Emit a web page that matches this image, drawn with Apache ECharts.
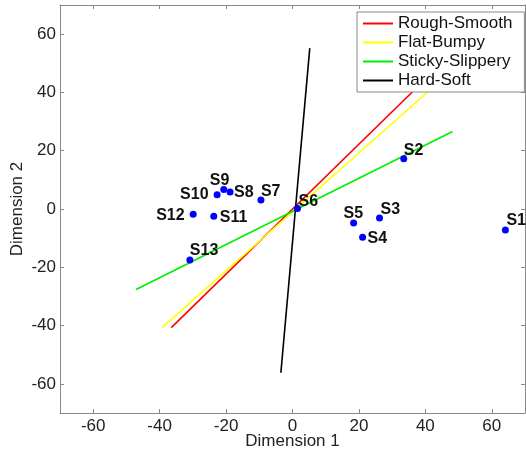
<!DOCTYPE html>
<html>
<head>
<meta charset="utf-8">
<script src="https://cdn.jsdelivr.net/npm/echarts@6/dist/echarts.min.js"></script>
<style>
html, body { margin: 0; padding: 0; background: #fff; }
#chart { width: 526px; height: 455px; }
</style>
</head>
<body>
<div id="chart"></div>
<script>
var sampleNames = ['S1', 'S2', 'S3', 'S4', 'S5', 'S6', 'S7', 'S8', 'S9', 'S10', 'S11', 'S12', 'S13'];
var sampleX = [64.1, 33.5, 26.2, 21.1, 18.4, 1.5, -9.5, -18.8, -20.7, -22.7, -23.7, -29.9, -30.9];
var sampleY = [-7.2, 17.2, -3.1, -9.7, -4.8, 0.2, 3.1, 5.8, 6.7, 4.9, -2.5, -1.8, -17.5];

var vectorNames = ['Rough-Smooth', 'Flat-Bumpy', 'Sticky-Slippery', 'Hard-Soft'];
var vectorColors = ['#ff0000', '#ffff00', '#00ee00', '#000000'];
var vectorStart = [[-36.5, -40.7], [-39.3, -40.7], [-47.1, -27.6], [-3.5, -56.2]];
var vectorEnd = [[44, 49], [41.5, 41], [48.2, 26.6], [5.2, 55.2]];

var axisTicks = [-60, -40, -20, 0, 20, 40, 60];

// top-left corner of each label, measured from its dot (px)
var labelPlace = {
	S1: [1, -17], S2: [0, -16], S3: [1, -16], S4: [5, -7], S5: [-10, -17],
	S6: [1, -15], S7: [0, -16], S8: [4, -8], S9: [-14, -17], S10: [-37, -8],
	S11: [6, -7], S12: [-37, -7], S13: [0, -17]
};

var lineSeries = vectorNames.map(function(name, i) {
	return {
		name: name,
		type: 'line',
		data: [vectorStart[i], vectorEnd[i]],
		showSymbol: false,
		symbol: 'none',
		lineStyle: { color: vectorColors[i], width: 1.6 },
		itemStyle: { color: vectorColors[i] },
		z: 2,
		silent: true
	};
});

var points = sampleNames.map(function(n, i) {
	return {
		value: [sampleX[i], sampleY[i]],
		name: n,
		label: {
			show: true,
			position: [labelPlace[n][0] + 3.5, labelPlace[n][1] + 3.5],
			align: 'left',
			verticalAlign: 'top',
			formatter: n
		}
	};
});

var fontName = 'Liberation Sans, Arial, sans-serif';
var labelFont = { fontFamily: fontName, fontSize: 17, color: '#222' };
var edge = { color: '#888' };

var option = {
	animation: false,
	backgroundColor: '#fff',
	grid: { left: 60, right: 1, top: 5, bottom: 42, outerBoundsMode: 'none', containLabel: false },
	legend: {
		data: vectorNames.map(function(n, i) { return { name: n, icon: 'rect', itemStyle: { color: vectorColors[i] } }; }),
		orient: 'vertical',
		top: 12,
		left: 357,
		itemWidth: 30,
		itemHeight: 2,
		itemGap: 2,
		padding: [3, 12, 3, 6],
		backgroundColor: '#fff',
		borderColor: '#888',
		borderWidth: 1,
		borderRadius: 0,
		textStyle: { fontFamily: fontName, fontSize: 17, lineHeight: 17, color: '#111' },
		selectedMode: false
	},
	xAxis: [{
		type: 'value', min: -70, max: 70, interval: 10,
		name: 'Dimension 1', nameLocation: 'middle', nameGap: 20, nameMoveOverlap: false,
		nameTextStyle: labelFont,
		axisLine: { onZero: false, lineStyle: edge },
		axisTick: { inside: true, length: 4, lineStyle: edge, customValues: axisTicks },
		axisLabel: Object.assign({ customValues: axisTicks, margin: 5 }, labelFont),
		splitLine: { show: false }
	}, {
		type: 'value', min: -70, max: 70, position: 'top',
		axisLine: { show: true, onZero: false, lineStyle: edge },
		axisTick: { inside: true, length: 4, lineStyle: edge, customValues: axisTicks },
		axisLabel: { show: false },
		splitLine: { show: false }
	}],
	yAxis: [{
		type: 'value', min: -70, max: 70, interval: 10,
		name: 'Dimension 2', nameLocation: 'middle', nameGap: 34, nameMoveOverlap: false,
		nameTextStyle: labelFont,
		axisLine: { show: true, onZero: false, lineStyle: edge },
		axisTick: { show: true, inside: true, length: 4, lineStyle: edge, customValues: axisTicks },
		axisLabel: Object.assign({ customValues: axisTicks, margin: 4 }, labelFont),
		splitLine: { show: false }
	}, {
		type: 'value', min: -70, max: 70, position: 'right',
		axisLine: { show: true, onZero: false, lineStyle: edge },
		axisTick: { show: true, inside: true, length: 4, lineStyle: edge, customValues: axisTicks },
		axisLabel: { show: false },
		splitLine: { show: false }
	}],
	series: lineSeries.concat([{
		name: 'Samples',
		type: 'scatter',
		symbolSize: 7,
		itemStyle: { color: '#0000ff', opacity: 1 },
		label: { fontFamily: fontName, fontSize: 16, fontWeight: 'bold', color: '#111' },
		data: points,
		z: 3
	}])
};

var chart = echarts.init(document.getElementById('chart'));
chart.setOption(option);
</script>
</body>
</html>
